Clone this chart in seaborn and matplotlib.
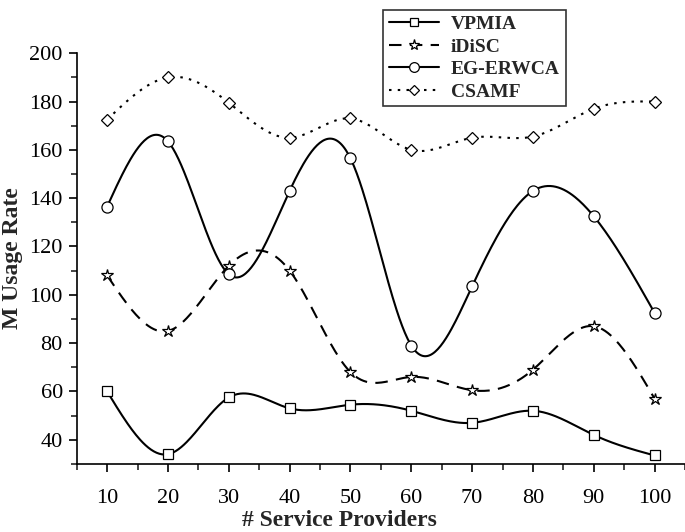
import numpy as np
import pandas as pd
import matplotlib
matplotlib.use("Agg")
import matplotlib.pyplot as plt
from matplotlib.lines import Line2D
from matplotlib.ticker import MultipleLocator
import seaborn as sns

# values
providers = [10, 20, 30, 40, 50, 60, 70, 80, 90, 100]
vpmia = [60, 34, 57.5, 53, 54.5, 52, 47, 52, 42, 33.5]
idisc = [108, 85, 112, 110, 68, 66, 60.5, 69, 87, 57]
eg_erwca = [136.5, 163.5, 108.5, 143, 156.5, 79, 103.5, 143, 132.5, 92.5]
csamf = [172.5, 190, 179.5, 165, 173, 160, 165, 165.5, 177, 180]

names = ["VPMIA", "iDiSC", "EG-ERWCA", "CSAMF"]
series = [vpmia, idisc, eg_erwca, csamf]
markers = ["s", "*", "o", "D"]
msizes = [7, 9, 8, 6]
styles = ["-", (0, (6, 4)), "-", (0, (1.2, 3))]


def natural_spline(x, y, n=400):
    # smooth connecting line through the data points (natural cubic spline)
    x = np.asarray(x, float)
    y = np.asarray(y, float)
    k = len(x)
    h = np.diff(x)
    A = np.zeros((k, k))
    b = np.zeros(k)
    A[0, 0] = A[-1, -1] = 1
    for i in range(1, k - 1):
        A[i, i - 1] = h[i - 1]
        A[i, i] = 2 * (h[i - 1] + h[i])
        A[i, i + 1] = h[i]
        b[i] = 6 * ((y[i + 1] - y[i]) / h[i] - (y[i] - y[i - 1]) / h[i - 1])
    M = np.linalg.solve(A, b)
    xs = np.linspace(x[0], x[-1], n)
    idx = np.clip(np.searchsorted(x, xs) - 1, 0, k - 2)
    x0, x1 = x[idx], x[idx + 1]
    hh = x1 - x0
    t0, t1 = x1 - xs, xs - x0
    ys = (M[idx] * t0**3 + M[idx + 1] * t1**3) / (6 * hh) \
        + (y[idx] / hh - M[idx] * hh / 6) * t0 \
        + (y[idx + 1] / hh - M[idx + 1] * hh / 6) * t1
    return xs, ys


sns.set_style("ticks")
plt.rcParams["font.family"] = ["Liberation Serif", "DejaVu Serif"]

fig = plt.figure(figsize=(6.85, 5.32), dpi=100)
ax = fig.add_axes([0.112, 0.128, 0.888, 0.772])

handles = []
for name, vals, m, ms, ls in zip(names, series, markers, msizes, styles):
    xs, ys = natural_spline(providers, vals)
    curve = pd.DataFrame({"x": xs, "y": ys})
    sns.lineplot(data=curve, x="x", y="y", ax=ax, color="black", lw=1.5,
                 linestyle=ls, estimator=None, sort=False)
    pts = pd.DataFrame({"x": providers, "y": vals})
    ax.plot(pts["x"], pts["y"], linestyle="none", marker=m, ms=ms,
            mfc="white", mec="black", mew=0.9, zorder=5)
    handles.append(Line2D([], [], color="black", lw=1.5, linestyle=ls,
                          marker=m, ms=ms - 1, mfc="white", mec="black", mew=0.9))

ax.set_xlim(5, 105)
ax.set_ylim(30, 200)
ax.xaxis.set_major_locator(MultipleLocator(10))
ax.xaxis.set_minor_locator(MultipleLocator(5))
ax.yaxis.set_major_locator(MultipleLocator(20))
ax.yaxis.set_minor_locator(MultipleLocator(10))
ax.tick_params(which="major", direction="out", length=6, width=1.2,
               labelsize=16, colors="black")
ax.tick_params(axis="x", which="major", pad=12)
ax.tick_params(axis="y", which="major", pad=4)
ax.tick_params(which="minor", direction="out", length=4, width=1.2)
for s in ["top", "right"]:
    ax.spines[s].set_visible(False)
for s in ["left", "bottom"]:
    ax.spines[s].set_linewidth(1.2)
    ax.spines[s].set_color("black")

ax.set_xlabel("# Service Providers", fontsize=17, fontweight="bold")
ax.xaxis.set_label_coords(0.432, -0.112)
ax.set_ylabel("M Usage Rate", fontsize=17, fontweight="bold", labelpad=5)

leg = fig.legend(handles, names, loc="upper left", bbox_to_anchor=(0.545, 1.0),
                 frameon=True, fancybox=False, edgecolor="black",
                 prop={"weight": "bold", "size": 14}, handlelength=2.6,
                 borderpad=0.3, labelspacing=0.25, handletextpad=0.6)
leg.get_frame().set_linewidth(1.2)

plt.savefig("out.png", dpi=100)
